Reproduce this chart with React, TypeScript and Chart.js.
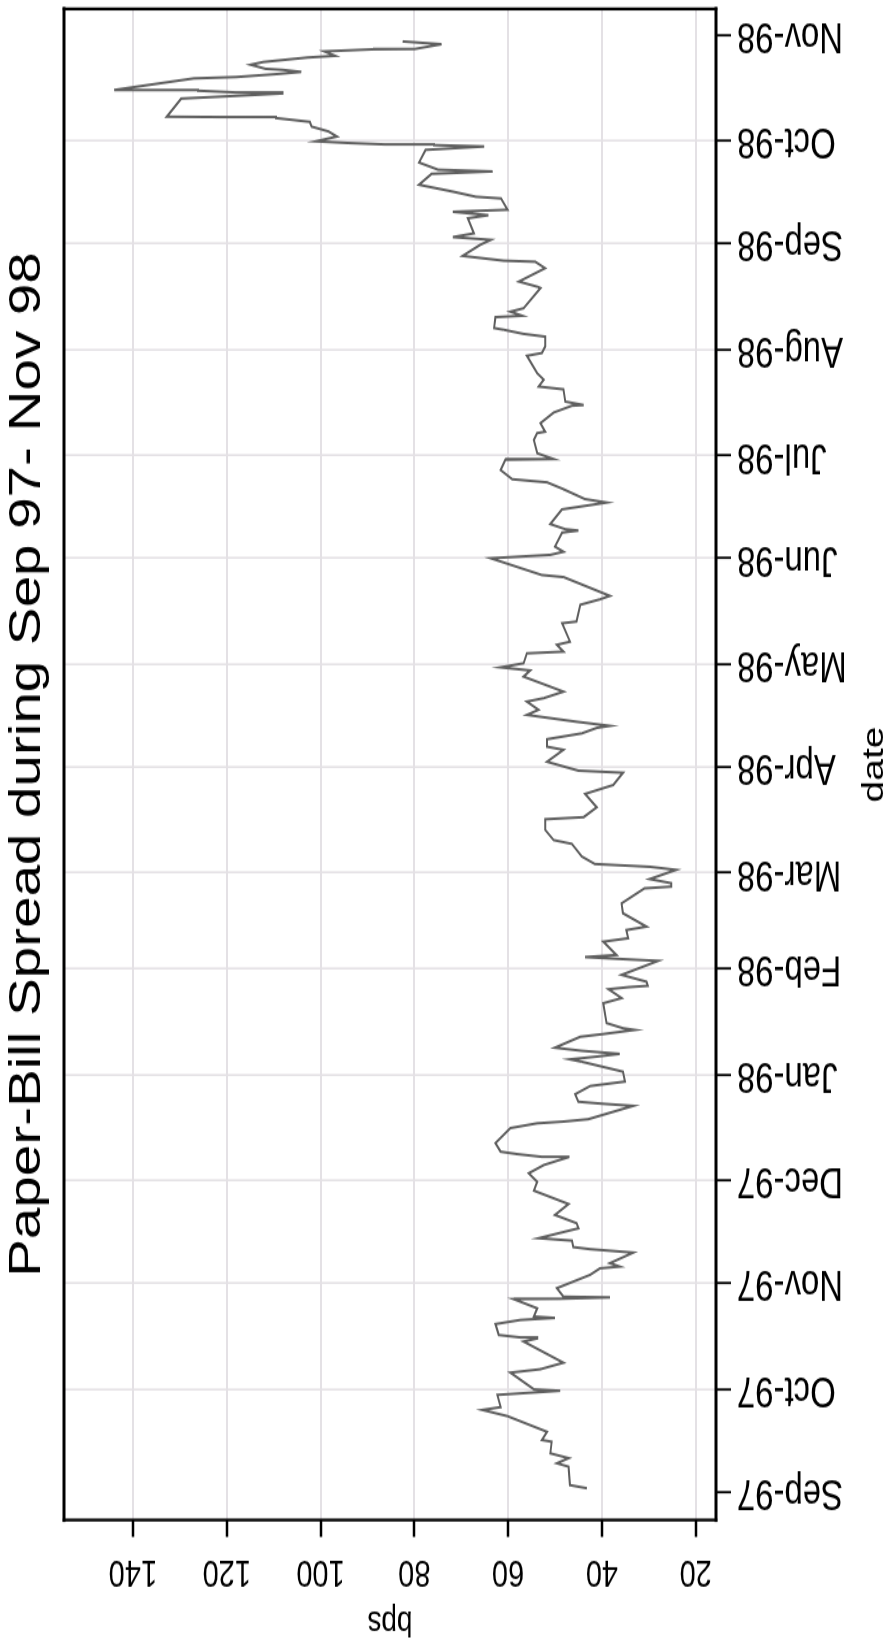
import React, { useEffect, useRef } from "react";
import { Chart, registerables } from "chart.js";

Chart.register(...registerables);

// ---- Data ----
const chartTitle = "Paper-Bill Spread during Sep 97- Nov 98";
const xAxisTitle = "date";
const yAxisTitle = "bps";

// Month ticks: days since 1 Sep 1997
const monthTickDays = [0, 30, 61, 91, 122, 153, 181, 212, 242, 273, 303, 334, 365, 395, 426];
const monthTickLabels = [
  "Sep-97", "Oct-97", "Nov-97", "Dec-97", "Jan-98", "Feb-98", "Mar-98", "Apr-98",
  "May-98", "Jun-98", "Jul-98", "Aug-98", "Sep-98", "Oct-98", "Nov-98",
];
const bpsTicks = [20, 40, 60, 80, 100, 120, 140];

// Observation dates as days since 1 Sep 1997
const dayOffsets = [
  1.1, 2.0, 7.4, 8.4, 9.9, 11.3, 14.7, 15.2, 17.6, 22.2, 24.0, 24.8, 28.4, 29.6, 30.0, 34.9,
  35.9, 37.8, 44.0, 44.9, 45.2, 45.9, 49.1, 50.3, 50.9, 51.3, 53.7, 56.4, 56.5, 56.9, 57.1, 59.6,
  63.5, 65.4, 65.9, 66.9, 70.0, 71.0, 71.6, 73.5, 74.2, 77.1, 78.6, 81.0, 84.2, 88.1, 90.7, 93.2,
  95.6, 97.9, 98.0, 98.8, 99.5, 102.0, 106.4, 107.8, 108.3, 109.0, 112.9, 113.5, 114.1, 116.3, 118.7, 120.0,
  122.9, 125.8, 126.5, 127.3, 128.1, 129.0, 129.9, 133.1, 133.9, 135.1, 135.6, 137.1, 142.9, 144.4, 147.0, 147.6,
  148.0, 149.2, 151.2, 155.3, 155.8, 156.4, 157.0, 160.9, 161.9, 164.3, 165.3, 169.2, 172.1, 176.5, 177.0, 178.0,
  179.2, 181.9, 182.8, 183.6, 185.8, 189.5, 190.6, 193.6, 196.7, 197.3, 200.2, 204.1, 206.7, 210.3, 210.9, 213.5,
  217.0, 217.9, 220.1, 221.8, 223.4, 224.0, 225.2, 227.2, 228.7, 231.1, 232.1, 234.0, 238.4, 240.2, 241.1, 242.3,
  245.2, 245.7, 247.7, 248.6, 254.0, 254.5, 259.4, 261.0, 262.0, 267.5, 268.1, 273.0, 273.5, 274.0, 274.9, 276.4,
  280.5, 281.1, 281.5, 283.0, 287.3, 288.9, 289.3, 290.3, 293.2, 295.2, 296.1, 298.8, 301.8, 302.0, 303.7, 307.6,
  309.6, 310.0, 312.5, 315.6, 317.6, 317.8, 318.8, 322.4, 323.2, 325.2, 327.1, 332.2, 333.0, 334.9, 337.8, 338.6,
  339.8, 340.3, 343.5, 343.9, 345.1, 346.1, 352.0, 352.4, 353.9, 357.8, 359.7, 360.0, 361.4, 364.6, 366.1, 366.9,
  368.0, 372.4, 373.3, 374.3, 374.9, 378.2, 378.7, 380.2, 382.2, 385.4, 386.1, 386.6, 388.7, 392.4, 393.4, 393.8,
  394.0, 394.4, 394.9, 396.3, 397.8, 399.2, 400.6, 401.7, 402.0, 402.1, 407.4, 408.2, 408.9, 409.2, 409.7, 409.9,
  410.8, 413.3, 413.7, 414.6, 415.2, 415.8, 416.1, 417.3, 418.1, 419.4, 419.9, 421.2, 421.8, 421.9, 423.3, 424.1,
];

// Paper-bill spread, basis points
const spreadBps = [
  43.2, 46.8, 47.1, 49.6, 47.1, 51.0, 50.7, 52.8, 51.7, 60.2, 65.5, 61.6, 62.3, 48.9, 54.5, 59.5,
  53.1, 48.2, 56.7, 53.8, 57.4, 62.0, 62.7, 57.4, 50.0, 54.5, 53.8, 58.8, 48.9, 38.3, 48.2, 49.6,
  42.5, 40.4, 36.2, 38.3, 33.3, 42.5, 46.1, 46.4, 53.5, 45.0, 45.4, 50.0, 47.1, 54.5, 53.8, 55.6,
  52.4, 47.1, 52.8, 58.1, 61.6, 62.7, 59.5, 53.8, 48.2, 42.9, 33.3, 39.7, 45.0, 45.7, 42.5, 35.1,
  35.5, 44.3, 46.8, 41.1, 36.2, 44.3, 50.0, 44.6, 39.7, 33.0, 35.5, 39.0, 39.7, 35.8, 38.6, 34.4,
  30.2, 30.5, 35.8, 28.0, 35.5, 43.6, 36.9, 39.7, 34.4, 34.8, 30.5, 35.5, 35.8, 30.9, 25.2, 25.2,
  29.8, 24.2, 29.8, 41.5, 44.3, 46.4, 50.3, 52.1, 52.1, 43.9, 41.1, 43.6, 37.6, 35.5, 45.0, 51.7,
  48.2, 51.7, 51.7, 44.3, 41.1, 38.3, 45.4, 56.0, 53.5, 56.0, 52.4, 48.2, 56.7, 55.3, 61.6, 56.7,
  56.0, 48.2, 49.6, 46.8, 48.5, 45.4, 44.6, 40.4, 38.3, 48.2, 52.8, 63.7, 57.4, 51.0, 48.2, 50.0,
  48.5, 45.0, 47.8, 51.0, 48.5, 40.8, 39.0, 43.6, 48.2, 51.7, 59.1, 61.6, 60.6, 50.3, 53.8, 54.5,
  53.8, 52.1, 53.1, 50.3, 46.4, 43.9, 47.8, 48.2, 53.5, 52.4, 53.8, 56.0, 52.8, 52.1, 52.1, 56.7,
  60.9, 63.0, 62.7, 57.0, 59.5, 56.7, 53.1, 53.8, 57.7, 52.1, 54.2, 60.9, 69.7, 66.0, 63.7, 71.8,
  67.3, 68.6, 64.2, 71.8, 60.1, 61.5, 66.9, 71.8, 79.0, 76.3, 63.3, 74.9, 79.0, 77.6, 65.1, 75.8,
  86.2, 93.8, 101.0, 96.5, 98.3, 101.9, 102.3, 109.5, 121.2, 132.8, 129.7, 118.0, 108.1, 118.0, 126.1, 144.0,
  139.6, 127.0, 118.0, 109.0, 104.1, 108.1, 111.7, 114.9, 112.2, 102.8, 96.9, 99.2, 88.8, 79.9, 74.2, 82.5,
];

// ---- Presentation ----
const FONT = "'Liberation Sans', Arial, Helvetica, sans-serif";
const GRID = "#e4e1e5";
const CANVAS_W = 1265;
const CANVAS_H = 890;
const STRETCH = 1644 / CANVAS_W;

const framePlugin = {
  id: "frame",
  afterDatasetsDraw(chart: any) {
    const { ctx, chartArea } = chart;
    const { left, right, top, bottom } = chartArea;
    ctx.save();
    ctx.strokeStyle = "#000";
    ctx.lineCap = "square";
    ctx.lineWidth = 3;
    ctx.beginPath();
    ctx.moveTo(left, top);
    ctx.lineTo(right, top);
    ctx.moveTo(left, bottom);
    ctx.lineTo(right, bottom);
    ctx.stroke();
    ctx.lineWidth = 2.3;
    ctx.beginPath();
    ctx.moveTo(left, top);
    ctx.lineTo(left, bottom);
    ctx.moveTo(right, top);
    ctx.lineTo(right, bottom);
    ctx.stroke();
    ctx.restore();
  },
};

export default function App() {
  const canvasRef = useRef<HTMLCanvasElement | null>(null);

  useEffect(() => {
    document.body.style.overflow = "hidden";
    const canvas = canvasRef.current;
    if (!canvas) return;
    const points = dayOffsets.map((d, i) => ({ x: d, y: spreadBps[i] }));
    const chart = new Chart(canvas, {
      type: "line",
      data: {
        datasets: [
          {
            data: points,
            borderColor: "#5f5f5f",
            borderWidth: 2,
            pointRadius: 0,
            tension: 0,
            fill: false,
          },
        ],
      },
      options: {
        responsive: false,
        animation: false,
        devicePixelRatio: 1,
        layout: { padding: { left: 0, right: 6.9, top: 0, bottom: 0 } },
        plugins: {
          legend: { display: false },
          tooltip: { enabled: false },
          title: {
            display: true,
            text: chartTitle,
            fullSize: false,
            color: "#000",
            font: { family: FONT, size: 43.5, weight: "normal", lineHeight: 1.2 },
            padding: { top: 2.25, bottom: 9.55 },
          },
        },
        scales: {
          x: {
            type: "linear",
            position: "bottom",
            min: -8.19,
            max: 433.6,
            afterBuildTicks: (s: any) => {
              s.ticks = monthTickDays.map((v) => ({ value: v }));
            },
            afterFit: (s: any) => {
              s.height = 174;
              s.paddingLeft = 0;
              s.paddingRight = 0;
            },
            ticks: {
              autoSkip: false,
              minRotation: 90,
              maxRotation: 90,
              padding: 6,
              color: "#000",
              font: { family: FONT, size: 32.9 },
              callback: (_v: any, i: number) => monthTickLabels[i],
            },
            grid: {
              color: (ctx: any) =>
                ctx.index === 0 || ctx.index === monthTickDays.length - 1 ? "rgba(0,0,0,0)" : GRID,
              lineWidth: 1.6,
              tickLength: 15,
              tickColor: "#000",
              tickWidth: 1.8,
            },
            border: { display: false },
            title: {
              display: true,
              text: xAxisTitle,
              color: "#000",
              font: { family: FONT, size: 30, lineHeight: 1 },
              padding: { top: 0, bottom: 0 },
            },
          },
          y: {
            type: "linear",
            position: "left",
            min: 15.67,
            max: 154.7,
            afterBuildTicks: (s: any) => {
              s.ticks = bpsTicks.map((v) => ({ value: v }));
            },
            afterFit: (s: any) => {
              s.width = 95.4;
              s.paddingTop = 0;
              s.paddingBottom = 0;
            },
            ticks: {
              autoSkip: false,
              minRotation: 90,
              maxRotation: 90,
              crossAlign: "center",
              padding: 2,
              color: "#000",
              font: { family: FONT, size: 29 },
            },
            grid: {
              color: GRID,
              lineWidth: 2,
              tickLength: 13,
              tickColor: "#000",
              tickWidth: 2.5,
            },
            border: { display: false },
            title: {
              display: true,
              text: yAxisTitle,
              color: "#000",
              font: { family: FONT, size: 28, lineHeight: 1 },
              padding: { top: 3.6, bottom: 0 },
            },
          },
        },
      } as any,
      plugins: [framePlugin],
    });
    return () => {
      chart.destroy();
    };
  }, []);

  return (
    <div
      style={{
        position: "fixed",
        left: 0,
        top: 0,
        width: CANVAS_W,
        height: CANVAS_H,
        transformOrigin: "0 0",
        transform: `translate(0px, 1644px) rotate(-90deg) scaleX(${STRETCH})`,
        background: "#fff",
      }}
    >
      <canvas
        ref={canvasRef}
        width={CANVAS_W}
        height={CANVAS_H}
        style={{ display: "block", width: CANVAS_W, height: CANVAS_H }}
      />
    </div>
  );
}
